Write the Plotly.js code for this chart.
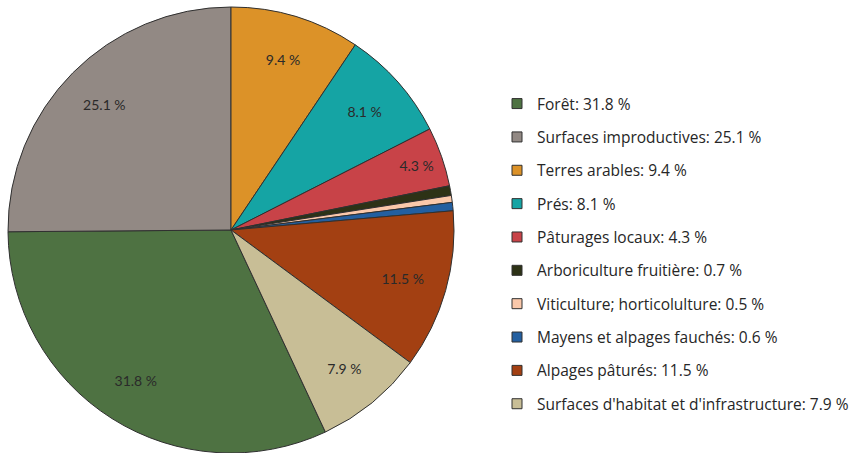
<!DOCTYPE html>
<html><head><meta charset="utf-8">
<script src="https://cdn.plot.ly/plotly-3.0.1.min.js"></script>
<style>html,body{margin:0;padding:0;background:#fff;}#chart{width:860px;height:453px;}</style>
</head><body><div id="chart"></div>
<script>
const categories = ["Forêt","Surfaces improductives","Terres arables","Prés","Pâturages locaux","Arboriculture fruitière","Viticulture; horticolulture","Mayens et alpages fauchés","Alpages pâturés","Surfaces d'habitat et d'infrastructure"];
const values = [31.8, 25.1, 9.4, 8.1, 4.3, 0.7, 0.5, 0.6, 11.5, 7.9];
const colors = ["#4e7242","#928984","#dc9228","#15a4a4","#c84348","#2d3216","#fac8aa","#235fa0","#a34012","#c8be96"];
const minLabel = 1;

const total = values.reduce((a,b)=>a+b,0);
// first two slices end at 12 o'clock
const rotation = 360 - 360*(values[0]+values[1])/total;
const domain = {x: [8/860, 454/860], y: [0, 1 - 7/453]};

const pie = {
  type: 'pie',
  labels: categories,
  values: values,
  sort: false,
  direction: 'clockwise',
  rotation: rotation,
  textinfo: 'none',
  marker: {colors: colors, line: {color: '#303030', width: 1}},
  domain: domain,
  showlegend: false,
  hoverinfo: 'label+value'
};

// transparent ring carrying the percentage labels (placed at ~0.8 R like the reference)
const labelRing = {
  type: 'pie',
  labels: categories,
  values: values,
  sort: false,
  direction: 'clockwise',
  rotation: rotation,
  hole: 0.6,
  text: values.map(v => v >= minLabel ? v.toFixed(1) + ' %' : ''),
  textinfo: 'text',
  textposition: 'inside',
  insidetextorientation: 'horizontal',
  textfont: {family: 'Lato, Open Sans, sans-serif', size: 14, color: '#2a2a2a'},
  marker: {colors: categories.map(() => 'rgba(0,0,0,0)'), line: {width: 0}},
  domain: domain,
  showlegend: false,
  hoverinfo: 'skip'
};

const legendTraces = categories.map((c, i) => ({
  type: 'scatter', mode: 'markers', x: [null], y: [null],
  name: c + ': ' + values[i].toFixed(1) + ' %',
  legendgroup: 'g' + i,
  marker: {symbol: 'square', size: 10, color: colors[i], line: {color: '#303030', width: 1}},
  showlegend: true, hoverinfo: 'skip'
}));

const layout = {
  width: 860, height: 453,
  margin: {l: 0, r: 0, t: 0, b: 0},
  paper_bgcolor: '#fff', plot_bgcolor: '#fff',
  xaxis: {visible: false}, yaxis: {visible: false},
  showlegend: true,
  legend: {
    x: (537-40)/860, xanchor: 'left',
    y: 1 - (103-16)/453, yanchor: 'top',
    traceorder: 'grouped', tracegroupgap: 10.2,
    font: {family: 'Open Sans, Lato, sans-serif', size: 15.5, color: '#262626'},
    bgcolor: 'rgba(0,0,0,0)'
  }
};

Plotly.newPlot('chart', [pie, labelRing].concat(legendTraces), layout, {displayModeBar: false, staticPlot: true});
</script>
</body></html>
